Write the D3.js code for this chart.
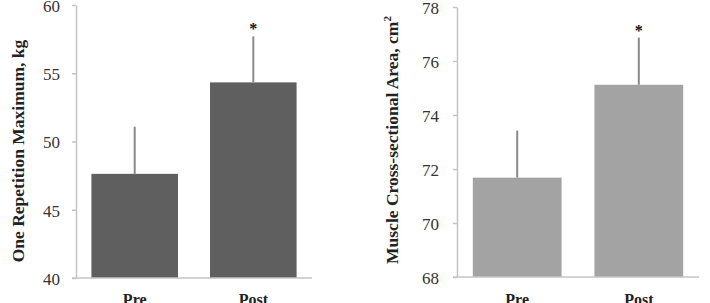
<!DOCTYPE html>
<html lang="en">
  <head>
    <meta charset="UTF-8" />
    <title>Pre vs Post</title>
    <style>
      body { margin: 0; background: #fff; }
    </style>
  </head>
  <body>
    <svg id="svg" width="710" height="303"></svg>

    <script src="https://d3js.org/d3.v7.min.js"></script>
    <script>
      const groups = ["Pre", "Post"];
      const strength = [47.63, 54.33];
      const strengthErr = [3.45, 3.37];
      const csa = [71.68, 75.12];
      const csaErr = [1.74, 1.75];
      const strengthTicks = [40, 45, 50, 55, 60];
      const csaTicks = [68, 70, 72, 74, 76, 78];
      const significant = [false, true];

      const svg = d3.select("#svg");

      function panel(opts) {
        const g = svg.append("g");
        const x = d3.scaleBand().domain(groups).range([opts.x0, opts.x1])
          .paddingInner(0.27).paddingOuter(0.13);
        const y = d3.scaleLinear().domain(opts.domain).range([opts.y0, opts.y1]);

        // axes
        const yAxis = g.append("g")
          .attr("transform", `translate(${opts.x0},0)`)
          .call(d3.axisLeft(y).tickValues(opts.ticks).tickSize(4).tickPadding(opts.pad).tickSizeOuter(0));
        yAxis.select(".domain").attr("stroke", "#c4c4c4").attr("stroke-width", 1.5);
        yAxis.selectAll(".tick line").attr("stroke", "#c4c4c4").attr("stroke-width", 1.5);
        yAxis.selectAll(".tick text")
          .attr("font-family", "Liberation Serif, serif")
          .attr("font-size", 17)
          .attr("dy", "0.38em")
          .attr("fill", "#333");

        // bars
        g.selectAll("rect.bar").data(opts.values).enter().append("rect")
          .attr("x", (d, i) => x(groups[i]))
          .attr("width", x.bandwidth())
          .attr("y", (d) => y(d))
          .attr("height", (d) => y(opts.domain[0]) - y(d))
          .attr("fill", opts.color);

        // error bars
        g.selectAll("line.err").data(opts.values).enter().append("line")
          .attr("x1", (d, i) => x(groups[i]) + x.bandwidth() / 2)
          .attr("x2", (d, i) => x(groups[i]) + x.bandwidth() / 2)
          .attr("y1", (d) => y(d))
          .attr("y2", (d, i) => y(d + opts.errs[i]))
          .attr("stroke", "#8a8a8a")
          .attr("stroke-width", 2);

        // asterisks
        g.selectAll("text.star").data(opts.values).enter()
          .filter((d, i) => significant[i])
          .append("text")
          .attr("x", (d) => x(groups[opts.values.indexOf(d)]) + x.bandwidth() / 2)
          .attr("y", (d) => y(d + opts.errs[opts.values.indexOf(d)]) - 2)
          .attr("text-anchor", "middle")
          .attr("font-family", "Liberation Serif, serif")
          .attr("font-weight", "bold")
          .attr("font-size", 16)
          .attr("fill", "#111")
          .text("*");

        // x baseline
        g.append("line")
          .attr("x1", opts.x0 - 4).attr("x2", opts.x1)
          .attr("y1", y(opts.domain[0])).attr("y2", y(opts.domain[0]))
          .attr("stroke", "#c4c4c4").attr("stroke-width", 1.5);

        // x labels
        g.selectAll("text.xl").data(groups).enter().append("text")
          .attr("x", (d) => x(d) + x.bandwidth() / 2)
          .attr("y", 305)
          .attr("text-anchor", "middle")
          .attr("font-family", "Liberation Serif, serif")
          .attr("font-weight", "bold")
          .attr("font-size", 16)
          .attr("fill", "#222")
          .text((d) => d);

        // y title
        g.append("text")
          .attr("transform", `translate(${opts.tx},${opts.ty}) rotate(-90)`)
          .attr("text-anchor", "middle")
          .attr("font-family", "Liberation Serif, serif")
          .attr("font-weight", "bold")
          .attr("font-size", 17.5)
          .attr("fill", "#222")
          .html(opts.title);
      }

      panel({
        x0: 76, x1: 312, y0: 278, y1: 5,
        domain: [40, 60], ticks: strengthTicks, pad: 12,
        values: strength, errs: strengthErr, color: "#5f5f5f",
        tx: 24, ty: 151, title: "One Repetition Maximum, kg"
      });

      panel({
        x0: 457, x1: 699, y0: 277, y1: 7,
        domain: [68, 78], ticks: csaTicks, pad: 14,
        values: csa, errs: csaErr, color: "#a3a3a3",
        tx: 398, ty: 140, title: "Muscle Cross-sectional Area, cm<tspan dy='-7' font-size='11'>2</tspan>"
      });
    </script>
  </body>
</html>
